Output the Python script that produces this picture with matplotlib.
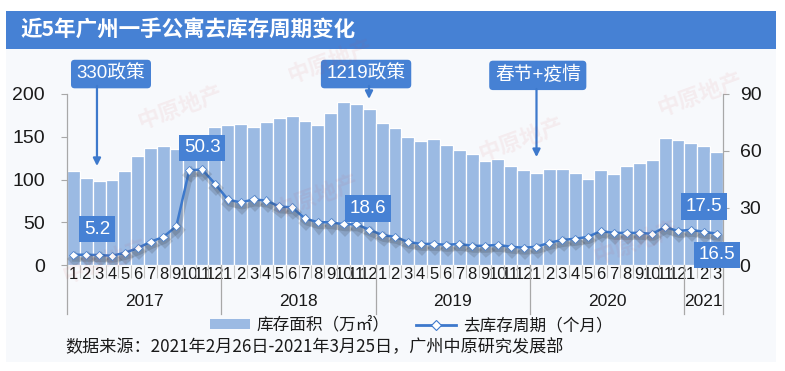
import matplotlib
matplotlib.use("Agg")
import matplotlib.pyplot as plt
import matplotlib.patheffects as pe
from matplotlib.patches import Rectangle, Patch
from matplotlib.lines import Line2D
from matplotlib.transforms import blended_transform_factory
import numpy as np

plt.rcParams['font.family'] = ['Liberation Sans', 'Noto Sans CJK SC', 'DejaVu Sans']

# data: Jan 2017 - Mar 2021
years = ['2017', '2018', '2019', '2020', '2021']
months_per_year = [12, 12, 12, 12, 3]
stock_area = [110, 102, 98.6, 99.4, 110, 127.5, 137, 139, 135.7, 142, 148, 161.4,
              163.8, 165, 161.4, 167, 172, 174, 168.5, 163.8, 177.8, 190.7, 188, 182.5,
              166, 160, 149.7, 145, 147.4, 140.4, 134.5, 129.8, 121.7, 124, 115.8, 111,
              107.6, 112.3, 112.3, 107.6, 100.6, 111, 106.5, 115.8, 119.3, 122.8, 148.6, 146,
              142.7, 139, 132]
cycle = [5.4, 5.4, 5.2, 4.9, 6.4, 8.9, 12.2, 14.8, 20.4, 49.8, 50.3, 42.8,
         34.5, 32.9, 34.5, 33.9, 30.8, 30.3, 24.5, 22.5, 22.5, 21.4, 21.4, 18.6,
         15.8, 14.8, 12.2, 11.1, 11.1, 10.6, 11.1, 10.1, 10.1, 10.6, 9.6, 9.1,
         9.6, 11.7, 13.2, 13.8, 14.8, 17.9, 16.9, 16.9, 16.9, 16.4, 20.0, 17.9,
         18.5, 17.5, 16.5]
labelled = [2, 10, 23, 49, 50]
policy_notes = ['330政策', '1219政策', '春节+疫情']

month_labels = [str(m) for n in months_per_year for m in range(1, n + 1)]
x = np.arange(len(stock_area))

W, H = 785, 371
blue = '#4681D4'
line_c = '#3D79CC'
bar_c = '#9BBAE3'
grey = '#A8A8A8'
txt = '#1A1A1A'

fig = plt.figure(figsize=(W / 100, H / 100), dpi=100)
fig.patch.set_facecolor('white')
fig.patches.append(Rectangle((6 / W, 1 - 362 / H), 770 / W, 313 / H,
                             transform=fig.transFigure, fc='#F7F9FC', ec='none', zorder=-2))
fig.patches.append(Rectangle((6 / W, 1 - 49 / H), 770 / W, 38 / H,
                             transform=fig.transFigure, fc=blue, ec='none', zorder=-1))
fig.text(20 / W, 1 - 30 / H, '近5年广州一手公寓去库存周期变化', color='white',
         fontsize=15.5, fontweight='bold', va='center', family=['Noto Sans CJK SC'])

# faint watermarks
for px, py in [(180, 108), (316, 197), (105, 262), (700, 95), (521, 140), (636, 243),
               (330, 62)]:
    fig.text(px / W, 1 - py / H, '中原地产', color='#D04040', alpha=0.07, fontsize=16,
             fontweight='bold', rotation=20, ha='center', va='center',
             family=['Noto Sans CJK SC'], zorder=0.5)

ax = fig.add_axes([67 / W, 1 - 265 / H, 656 / W, 171 / H])
ax.patch.set_visible(False)
ax2 = ax.twinx()

ax.bar(x, stock_area, width=1.0, color=bar_c, edgecolor='white', linewidth=0.9, zorder=2)
ax.set_xlim(-0.5, len(x) - 0.5)
ax.set_ylim(0, 200)
ax.set_yticks(range(0, 201, 50))
ax2.set_ylim(0, 90)
ax2.set_yticks([0, 30, 60, 90])

for a in (ax, ax2):
    a.spines['top'].set_visible(False)
    a.spines['bottom'].set_visible(False)
    a.spines['left'].set_color(grey)
    a.spines['right'].set_color(grey)

ax.tick_params(axis='y', labelsize=14, colors=txt, length=4, pad=12)
ax.tick_params(axis='y', color=grey)
ax2.tick_params(axis='y', labelsize=14, colors=txt, length=4, pad=8)
ax2.tick_params(axis='y', color=grey)

ax.set_xticks(x)
ax.set_xticklabels(month_labels, fontsize=12, color=txt)
ax.tick_params(axis='x', which='major', length=0, pad=1.5)
ax.set_xticks(np.arange(-0.5, len(x), 1), minor=True)
ax.tick_params(axis='x', which='minor', length=9, color='#C4C4C4', width=0.8)

trans = blended_transform_factory(ax.transData, ax.transAxes)
bounds = np.concatenate([[-0.5], np.cumsum(months_per_year) - 0.5])
for b in bounds:
    ax.plot([b, b], [0, -0.285], transform=trans, color=grey, lw=0.9, clip_on=False)
for i, yr in enumerate(years):
    ax.text((bounds[i] + bounds[i + 1]) / 2, -0.215, yr, transform=trans,
            ha='center', va='center', fontsize=12.5, color=txt)

ax2.plot(x, cycle, color=line_c, lw=1.8, marker='D', ms=4.2, mfc='white',
         mec=line_c, mew=0.5, zorder=3,
         path_effects=[pe.SimpleLineShadow(offset=(1, -3), shadow_color='#333333',
                                           alpha=0.18, linewidth=4), pe.Normal()])

box = dict(boxstyle='square,pad=0.25', fc=blue, ec='none')
label_pos = {2: (1.83, 18.9), 10: (10.03, 61.6), 23: (22.93, 29.7),
             49: (49.0, 30.8), 50: (50.0, 5.3)}
for i in labelled:
    lx, ly = label_pos[i]
    ax2.text(lx, ly, f'{cycle[i]:.1f}', color='white', fontsize=13.5, ha='center',
             va='center', bbox=box, zorder=6, clip_on=False)

note_box = dict(boxstyle='round,pad=0.3,rounding_size=0.2', fc=blue, ec='none')
note_pos = [(2.92, 100.5), (22.75, 100.5), (36.1, 99.8)]
arrow_from = [(1.83, 94.2), (22.98, 94.2), (36.0, 92.6)]
arrow_to = [(1.83, 52.1), (22.98, 87.4), (36.0, 56.8)]
for t, (nx, ny), a0, a1 in zip(policy_notes, note_pos, arrow_from, arrow_to):
    ax2.text(nx, ny, t, color='white', fontsize=13.5, ha='center', va='center',
             bbox=note_box, zorder=6, clip_on=False)
    ax2.annotate('', xy=a1, xytext=a0, annotation_clip=False,
                 arrowprops=dict(arrowstyle='-|>', color=line_c, lw=1.6,
                                 mutation_scale=11, shrinkA=0, shrinkB=0), zorder=6)

handles = [Patch(fc=bar_c, ec='none'),
           Line2D([], [], color=line_c, lw=2, marker='D', ms=5, mfc='white', mec=line_c, mew=0.8)]
fig.legend(handles, ['库存面积（万㎡）', '去库存周期（个月）'], loc='center',
           bbox_to_anchor=(411 / W, 1 - 325 / H), ncol=2, frameon=False, fontsize=12,
           handlelength=2.4, handleheight=0.55, handletextpad=0.4, columnspacing=1.6,
           labelcolor=txt)

fig.text(65 / W, 1 - 347 / H, '数据来源：2021年2月26日-2021年3月25日，广州中原研究发展部',
         fontsize=12.3, color=txt, va='center', family=['Noto Sans CJK SC'])

fig.savefig('out.png', dpi=100)
